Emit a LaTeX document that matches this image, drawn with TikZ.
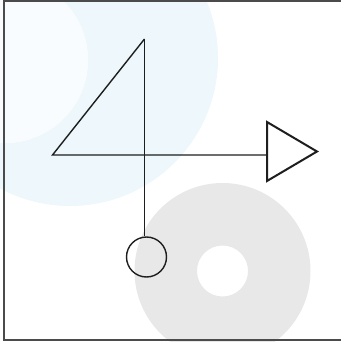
\documentclass[tikz,border=0pt]{standalone}
\usepackage{tikz}
\usetikzlibrary{shapes.geometric,positioning,calc}

\definecolor{paleblue}{HTML}{EDF7FC}
\definecolor{palegray}{HTML}{E8E8E8}
\definecolor{inkgray}{HTML}{1E1E1E}

\tikzset{
  wire/.style={draw=inkgray, line width=1.4pt},
  bulb/.style={circle, draw=inkgray, line width=1.4pt, minimum size=40pt, inner sep=0pt},
  head/.style={isosceles triangle, isosceles triangle apex angle=60, isosceles triangle stretches,
    draw=inkgray, line width=2pt, minimum height=50pt, minimum width=59pt, inner sep=0pt},
  ring/.style={even odd rule, draw=none}
}

\begin{document}
\begin{tikzpicture}[x=1pt,y=-1pt]
  \useasboundingbox (0,0) rectangle (340,342);
  % background rings
  \fill[paleblue, ring] (70,58) circle (148) (5,60) circle (83);
  \fill[paleblue!35] (5,60) circle (83);
  \fill[palegray, ring] (222.5,271) circle (88) (222.5,271) circle (25.5);
  % frame
  \draw[draw=inkgray!80, line width=2pt] (4,1) rectangle (345,340);

  \coordinate (apex) at (144.5,39);
  \coordinate (corner) at (52.5,155);
  \node[bulb] (lamp) at (146.5,257) {};
  \node[head, anchor=lower side] (arrow) at (266,151.5) {};

  \draw[wire] (apex) -- (corner) -- (corner -| arrow.lower side);
  \draw[wire] (apex) -- (apex |- lamp.north);
\end{tikzpicture}
\end{document}
